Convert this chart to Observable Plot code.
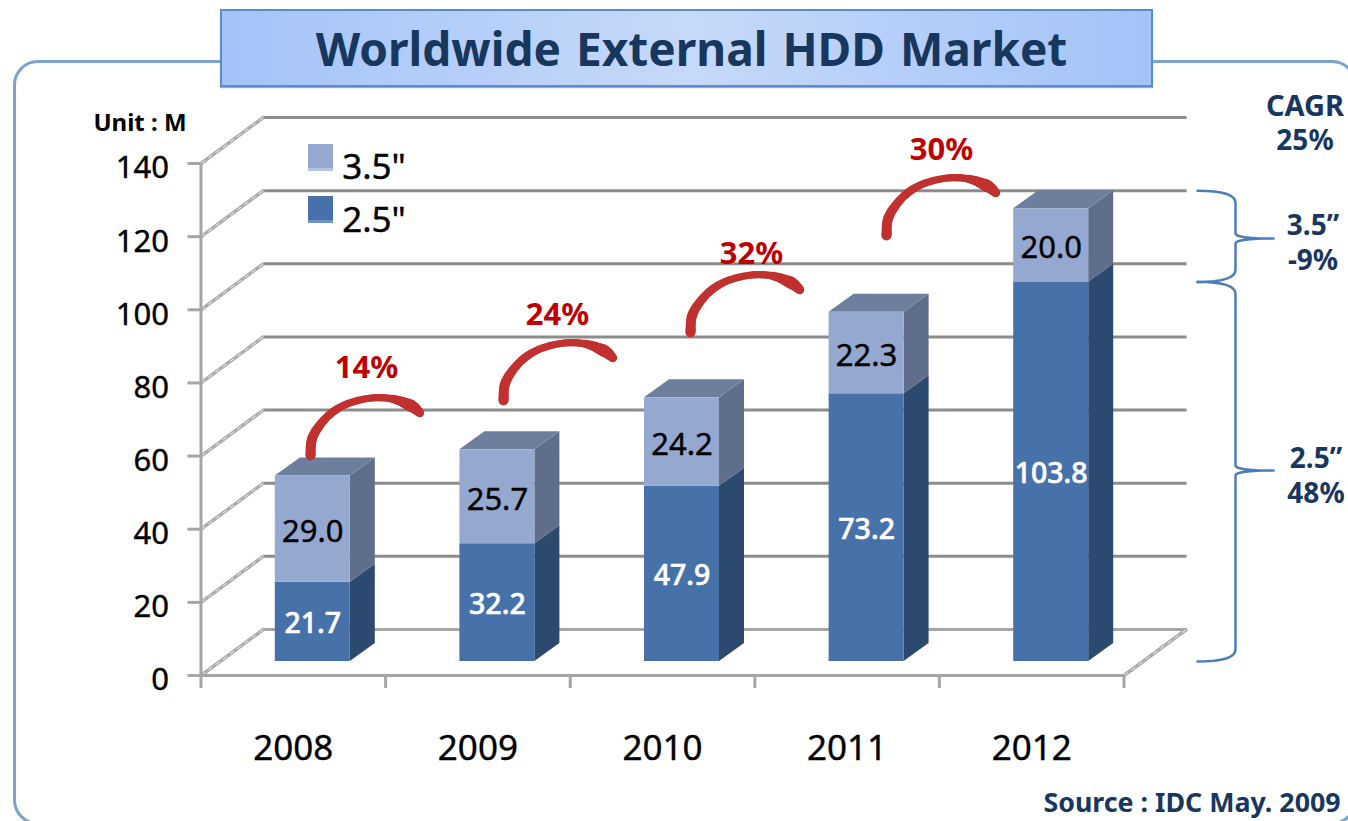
<!DOCTYPE html>
<html>
<head>
<meta charset="utf-8">
<script src="https://cdn.jsdelivr.net/npm/d3@7"></script>
<script src="https://cdn.jsdelivr.net/npm/@observablehq/plot@0.6"></script>
<style>
html,body{margin:0;padding:0;background:#fff;overflow:hidden;width:1348px;height:821px;font-family:"Noto Sans",sans-serif}
#stage{position:relative;width:1348px;height:821px;overflow:hidden}
#stage svg{position:absolute;left:0;top:0;overflow:hidden}
#frame{position:absolute;left:13px;top:60px;width:1344px;height:765px;border:3.5px solid #7ba3d2;border-radius:25px;box-sizing:border-box}
#title{position:absolute;left:220px;top:9px;width:933px;height:78px;box-sizing:border-box;border:2px solid #5b8ccb;
 background:linear-gradient(90deg,#a3c3f7 0%,#c6d9f9 50%,#a3c3f7 100%);color:#17375e;font-weight:700;font-size:46px;line-height:74px;text-align:center;word-spacing:3px;margin:0;box-shadow:0 1px 1px #8eaad0;text-indent:10px}
.t{position:absolute;color:#17375e;font-weight:700;white-space:pre;text-align:center;transform:translate(-50%,-50%);line-height:1}
.k{color:#000;font-weight:400;-webkit-text-stroke:0.4px #000}
.sw{position:absolute;width:25px;height:27px}
</style>
</head>
<body>
<div id="stage">
  <div id="frame"></div>
  <div id="chart"></div>
  <h1 id="title">Worldwide External HDD Market</h1>
  <div class="t" style="left:140px;top:122px;font-size:24px;color:#000">Unit : M</div>
  <div class="sw" style="left:308px;top:144px;background:linear-gradient(#95a9d0 90%,#b4c3df 90%)"></div>
  <div class="sw" style="left:308px;top:196px;background:linear-gradient(#4672a9 88%,#6f92c0 88%)"></div>
  <div class="t k" style="left:374px;top:165px;font-size:35px">3.5"</div>
  <div class="t k" style="left:374px;top:218px;font-size:35px">2.5"</div>
  <div class="t" style="left:1305px;top:104px;font-size:29px">CAGR</div>
  <div class="t" style="left:1305px;top:139px;font-size:28px">25%</div>
  <div class="t" style="left:1313px;top:224px;font-size:28px">3.5”</div>
  <div class="t" style="left:1313px;top:259px;font-size:28px">-9%</div>
  <div class="t" style="left:1316px;top:457px;font-size:28px">2.5”</div>
  <div class="t" style="left:1316px;top:492px;font-size:28px">48%</div>
  <div class="t" style="left:1192px;top:802px;font-size:26.8px">Source : IDC May. 2009</div>
</div>
<script>
// ---- data ----
const years = [2008, 2009, 2010, 2011, 2012];
const hdd25 = [21.7, 32.2, 47.9, 73.2, 103.8];
const hdd35 = [29.0, 25.7, 24.2, 22.3, 20.0];
const growthLabels = ["14%", "24%", "32%", "30%"];
const yTicks = [0, 20, 40, 60, 80, 100, 120, 140];

// ---- scale geometry ----
const W = 1348, H = 821;
const mL = 200.5, mR = 224.5, mT = 163, mB = 146;
const pxPerYear = (W - mL - mR) / years.length;
const pxPerUnit = (H - mT - mB) / 140;
const ux = p => p / pxPerYear, uy = p => p / pxPerUnit;
const xOf = p => 2007.5 + ux(p - mL);       // page px -> year units (annotations)
const yOf = p => uy(H - mB - p);            // page px -> value units (annotations)
const barDx = 19.5, barDy = -14;
const halfW = ux(37.5), depthX = ux(25), depthY = uy(18);
const wallX = ux(63), wallY = uy(46.5);

const rows = years.map((year, i) => ({year, a: hdd25[i], b: hdd35[i], top: hdd25[i] + hdd35[i]}));
const bar = {dx: barDx, dy: barDy};

function sideFace(lo, hi) {
  return rows.flatMap(r => [0, 1].map(f => ({
    year: r.year,
    x: r.year + halfW + f * depthX,
    y1: lo(r) + f * depthY,
    y2: hi(r) + f * depthY
  })));
}
const topFace = rows.flatMap(r => [0, 1].map(f => ({
  year: r.year,
  y: r.top + f * depthY,
  x1: r.year - halfW + f * depthX,
  x2: r.year + halfW + f * depthX
})));

// braces, in the same frame as the bars
const q = (a, c, b, n = 8) => d3.range(n + 1).map(i => {
  const t = i / n, s = 1 - t;
  return [s*s*a[0] + 2*s*t*c[0] + t*t*b[0], s*s*a[1] + 2*s*t*c[1] + t*t*b[1]];
});
function brace(id, hi, lo, mid) {
  const x0 = xOf(1197 - barDx), xm = xOf(1235 - barDx), xt = xOf(1273 - barDx);
  const r = uy(12), n = uy(5);
  const pts = [
    ...q([x0, hi], [xm, hi], [xm, hi - r]),
    ...q([xm, mid + n], [xm, mid], [xt, mid]),
    ...q([xt, mid], [xm, mid], [xm, mid - n]),
    ...q([xm, lo + r], [xm, lo], [x0, lo])
  ];
  return pts.map(([x, y]) => ({id, x, y}));
}
const top12 = rows[4].top, split12 = rows[4].a;
const braces = [
  ...brace("b35", top12 + depthY, split12, yOf(238 + 14)),
  ...brace("b25", split12, 0, yOf(470 + 14))
];

// growth arrows: one tapered arc shape (px from the tail), placed at each tail
const arcX = [0, 2, 15, 33, 57, 80, 100, 110];
const arcY = [0, -18, -37, -50, -57, -57, -50, -42];
const arcR = [5, 5, 4.2, 3.8, 3.6, 3.8, 6.2, 4];
const cr = (p0, p1, p2, p3, t) => 0.5 * (2*p1 + (p2-p0)*t + (2*p0-5*p1+4*p2-p3)*t*t + (3*p1-p0-3*p2+p3)*t*t*t);
const arcShape = d3.range(arcX.length - 1).flatMap(i => d3.range(10).map(j => {
  const t = j / 10, at = (a, k) => a[Math.max(0, Math.min(a.length - 1, k))];
  return {
    x: cr(at(arcX, i-1), arcX[i], arcX[i+1], at(arcX, i+2), t),
    y: cr(at(arcY, i-1), arcY[i], arcY[i+1], at(arcY, i+2), t),
    r: arcR[i] + (arcR[i+1] - arcR[i]) * t
  };
}));
const tailX = [310, 503, 690, 886];
const tailY = [455, 400, 332, 235];
const labelX = [366, 557, 751, 941];
const labelY = [368, 315, 254, 150];
const arcs = tailX.flatMap((tx, k) => arcShape.map(s => ({
  x: xOf(tx + s.x), y: yOf(tailY[k] + s.y), r: s.r
})));
const growth = growthLabels.map((text, k) => ({text, x: xOf(labelX[k]), y: yOf(labelY[k])}));

const red = "#c0312f";
const wallRows = yTicks;
const axisGrey = "#a6a6a6";

const plot = Plot.plot({
  width: W, height: H,
  marginLeft: mL, marginRight: mR, marginTop: mT, marginBottom: mB,
  style: {fontFamily: '"Noto Sans",sans-serif', background: "transparent", overflow: "hidden"},
  x: {type: "linear", domain: [2007.5, 2012.5], axis: null},
  y: {domain: [0, 140], axis: null},
  r: {type: "identity"},
  marks: [
    // back wall gridlines
    Plot.ruleY(yTicks.filter(d => d > 0), {x1: () => 2007.5, x2: () => 2012.5, y: d => d, dx: 63, dy: -46, stroke: "#8c8c8c", strokeWidth: 3}),
    Plot.ruleY([0], {x1: () => 2007.5, x2: () => 2012.5, y: d => d, dx: 63, dy: -46, stroke: axisGrey, strokeWidth: 3}),
    // side wall diagonals
    Plot.link(wallRows, {x1: () => 2007.5, y1: d => d, x2: () => 2007.5 + wallX, y2: d => d + wallY, stroke: "#ababab", strokeWidth: 3.5}),
    Plot.link(wallRows, {x1: () => 2007.5, y1: d => d, x2: () => 2007.5 + wallX, y2: d => d + wallY, stroke: "#efefef", strokeWidth: 1, strokeDasharray: "5 4"}),
    Plot.link([0], {x1: () => 2012.5, y1: () => 0, x2: () => 2012.5 + wallX, y2: () => wallY, stroke: "#ababab", strokeWidth: 3.5}),
    Plot.link([0], {x1: () => 2012.5, y1: () => 0, x2: () => 2012.5 + wallX, y2: () => wallY, stroke: "#efefef", strokeWidth: 1, strokeDasharray: "5 4"}),
    // axes
    Plot.ruleX([2007.5], {y1: () => 0, y2: () => 140, stroke: axisGrey, strokeWidth: 3}),
    Plot.ruleY([0], {x1: () => 2007.5, x2: () => 2012.5, stroke: axisGrey, strokeWidth: 3}),
    Plot.axisY({ticks: yTicks, tickSize: 13, text: null, stroke: axisGrey, strokeWidth: 3, strokeOpacity: 1, label: null}),
    Plot.axisY({ticks: yTicks, tickSize: 0, tickPadding: 32, dy: 5, fontSize: 31, fill: "#000", fillOpacity: 1, textStroke: "#000", textStrokeWidth: 0.4, label: null}),
    Plot.axisX({ticks: [...years.map(y => y - 0.5), 2012.5], tickSize: 13, text: null, stroke: axisGrey, strokeWidth: 3, strokeOpacity: 1, label: null}),
    Plot.axisX({ticks: years, tickSize: 0, tickPadding: 60, tickFormat: d3.format("d"), fontSize: 35, fill: "#000", fillOpacity: 1, textStroke: "#000", textStrokeWidth: 0.4, label: null}),
    // bar sides and tops
    Plot.area(sideFace(r => 0, r => r.a), {x1: "x", y1: "y1", y2: "y2", z: "year", fill: "#2c4a70", ...bar}),
    Plot.area(sideFace(r => r.a, r => r.top), {x1: "x", y1: "y1", y2: "y2", z: "year", fill: "#5f6f8b", ...bar}),
    Plot.areaX(topFace, {y: "y", x1: "x1", x2: "x2", z: "year", fill: "#6e7f9d", ...bar}),
    // bar fronts
    Plot.rect(rows, {x1: d => d.year - halfW, x2: d => d.year + halfW, y1: () => 0, y2: "a", fill: "#4672a9", ...bar}),
    Plot.rect(rows, {x1: d => d.year - halfW, x2: d => d.year + halfW, y1: "a", y2: "top", fill: "#95a9d0", ...bar}),
    // bar labels
    Plot.text(rows, {x: "year", y: d => d.a / 2, text: d => d.a.toFixed(1), fill: "#fff", fontSize: 28.5, fontWeight: 500, dx: barDx, dy: barDy + 2, stroke: "#fff", strokeWidth: 0.6}),
    Plot.text(rows, {x: "year", y: d => d.a + d.b / 2, text: d => d.b.toFixed(1), fill: "#000", fontSize: 31, dx: barDx, dy: barDy + 3, stroke: "#000", strokeWidth: 0.4}),
    // growth arrows
    Plot.dot(arcs, {x: "x", y: "y", r: "r", fill: red, stroke: "none"}),
    Plot.text(growth, {x: "x", y: "y", text: "text", fill: "#c00000", fontSize: 31, fontWeight: 700}),
    // braces
    Plot.line(braces, {x: "x", y: "y", z: "id", stroke: "#4a7ebb", strokeWidth: 2.5, curve: "linear", ...bar})
  ]
});
document.getElementById("chart").appendChild(plot);
</script>
</body>
</html>
